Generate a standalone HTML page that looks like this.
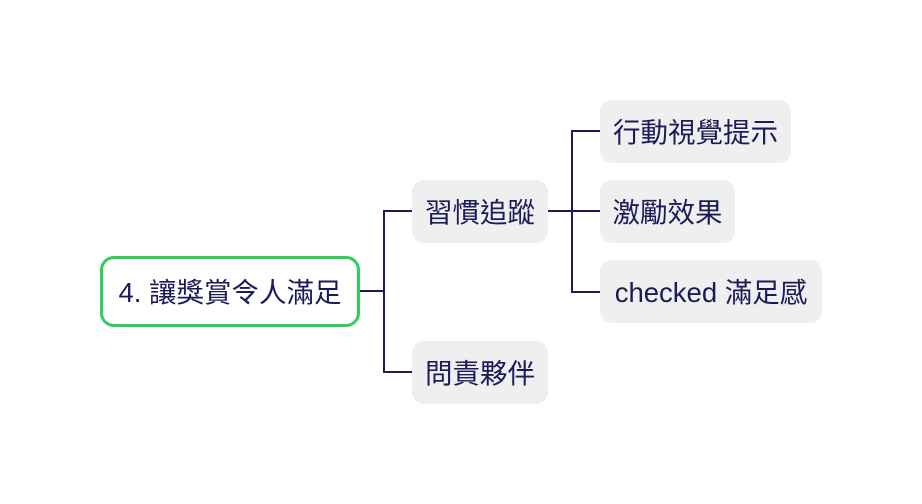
<!DOCTYPE html>
<html><head><meta charset="utf-8"><style>
body{margin:0;width:922px;height:504px;background:#fff;position:relative;overflow:hidden;font-family:"Liberation Sans","Noto Sans CJK TC",sans-serif;color:#1c1b5a}
.n{position:absolute;background:#efefef;border-radius:12px;display:flex;align-items:center;justify-content:center;font-size:27.5px;white-space:nowrap;box-sizing:border-box;padding-bottom:4px}
.l{position:absolute;background:#1c1b5a}
</style></head><body>
<div class="n" style="left:100px;top:256px;width:260px;height:71px;background:#fff;border:3.5px solid #2ed158;border-radius:14px">4. 讓獎賞令人滿足</div>
<div class="l" style="left:360px;top:290px;width:24px;height:2px"></div>
<div class="l" style="left:383px;top:210px;width:2px;height:163px"></div>
<div class="l" style="left:383px;top:210px;width:29px;height:2px"></div>
<div class="l" style="left:383px;top:371px;width:29px;height:2px"></div>
<div class="n" style="left:412px;top:180px;width:136px;height:63px">習慣追蹤</div>
<div class="n" style="left:412px;top:341px;width:136px;height:63px">問責夥伴</div>
<div class="l" style="left:548px;top:210px;width:52px;height:2px"></div>
<div class="l" style="left:571px;top:130px;width:2px;height:163px"></div>
<div class="l" style="left:571px;top:130px;width:29px;height:2px"></div>
<div class="l" style="left:571px;top:291px;width:29px;height:2px"></div>
<div class="n" style="left:600px;top:100px;width:191px;height:63px">行動視覺提示</div>
<div class="n" style="left:600px;top:180px;width:135px;height:63px">激勵效果</div>
<div class="n" style="left:600px;top:260px;width:222px;height:63px">checked 滿足感</div>
</body></html>
